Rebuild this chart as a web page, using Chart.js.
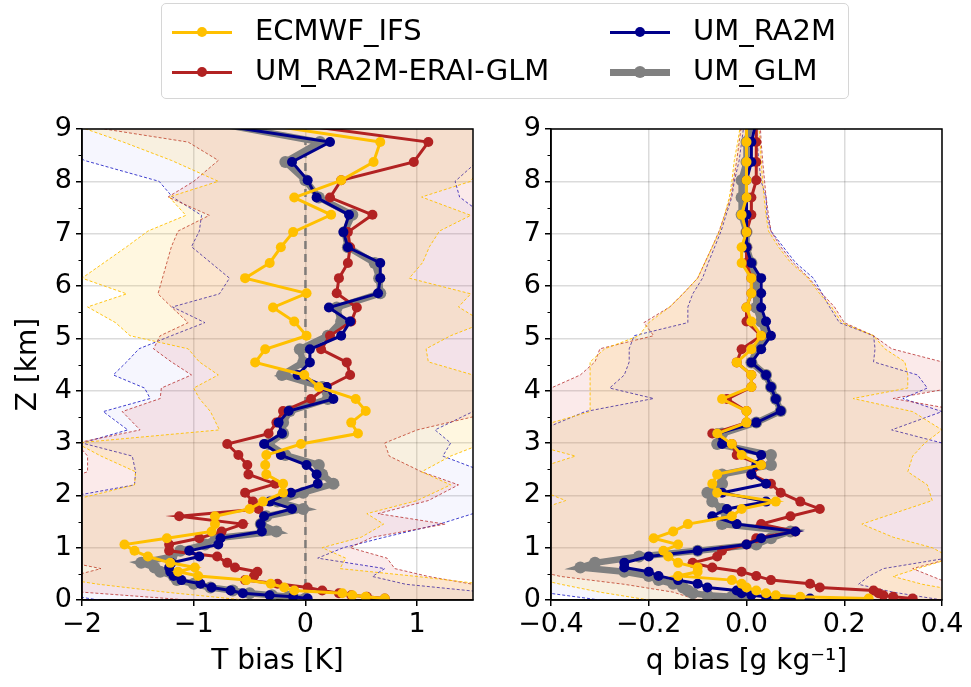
<!DOCTYPE html>
<html>
<head>
<meta charset="utf-8">
<script src="https://cdn.jsdelivr.net/npm/chart.js@4.4.1/dist/chart.umd.min.js"></script>
<style>
  body { margin: 0; background: #fff; width: 971px; height: 687px; overflow: hidden; font-family: "DejaVu Sans", sans-serif; }
  canvas { position: absolute; top: 0; }
  #left { left: 0; }
  #right { left: 485px; }
  #legend { position: absolute; left: 161px; top: 3px; width: 686px; height: 94px; border: 1.5px solid #d6d6d6; border-radius: 5px; background: rgba(255,255,255,0.85); }
  .item { position: absolute; height: 40px; }
  .item .ln { position: absolute; left: 0; width: 60px; }
  .item .dot { position: absolute; border-radius: 50%; }
  .item span { position: absolute; left: 83px; top: 1px; font-size: 29px; white-space: nowrap; color: #000; }
</style>
</head>
<body>
<canvas id="left" width="485" height="687"></canvas>
<canvas id="right" width="486" height="687"></canvas>
<div id="legend"></div>
<script>
// ---- data ----
// altitude levels of the profiles [km]
const Z = [0.03, 0.06, 0.09, 0.13, 0.18, 0.24, 0.31, 0.38, 0.46, 0.54, 0.62, 0.71, 0.83, 0.94, 1.06, 1.18, 1.31,
  1.45, 1.60, 1.74, 1.88, 2.05, 2.22, 2.40, 2.58, 2.77, 2.98, 3.18, 3.39, 3.61, 3.84, 4.07, 4.30, 4.54, 4.79,
  5.05, 5.32, 5.59, 5.86, 6.15, 6.44, 6.74, 7.03, 7.36, 7.69, 8.02, 8.37, 8.75, 9.15];

// T bias [K]
const T_IFS = [0.71, 0.54, 0.42, 0.33, -0.10, -0.19, -0.31, -0.53, -0.96, -1.14, -0.99, -1.21, -1.41, -1.53, -1.62, -1.24, -0.84,
  -0.81, -0.81, -0.50, -0.38, -0.20, -0.20, -0.35, -0.36, -0.35, -0.04, 0.47, 0.41, 0.54, 0.45, 0.12, -0.01, -0.45, -0.36,
  0.01, -0.10, -0.29, 0.01, -0.54, -0.32, -0.22, -0.11, 0.23, -0.10, 0.32, 0.61, 0.67, -0.57];
const T_ERAI = [0.71, 0.55, 0.41, 0.30, 0.15, 0.02, -0.25, -0.54, -0.46, -0.43, -0.63, -0.70, -0.79, -1.22, -1.22, -0.95, -0.75,
  -0.56, -1.13, -0.42, -0.47, -0.54, -0.27, -0.51, -0.52, -0.60, -0.70, -0.33, -0.26, -0.20, 0.05, 0.19, 0.40, 0.37, 0.14,
  0.22, 0.41, 0.46, 0.28, 0.30, 0.38, 0.40, 0.38, 0.60, 0.22, 0.32, 0.97, 1.10, -0.30];
const T_RA2M = [0.02, -0.11, -0.32, -0.56, -0.67, -0.84, -0.94, -1.11, -1.18, -1.21, -1.22, -1.20, -0.95, -1.04, -0.78, -0.76, -0.39,
  -0.40, -0.37, -0.12, -0.32, -0.13, 0.11, 0.10, 0.01, -0.22, -0.37, -0.21, -0.24, -0.15, 0.25, 0.19, -0.07, 0.04, 0.04,
  0.32, 0.40, 0.21, 0.65, 0.67, 0.67, 0.38, 0.34, 0.39, 0.10, 0.02, -0.12, 0.22, -1.00];
const T_GLM = [0.00, -0.15, -0.30, -0.50, -0.65, -0.85, -1.00, -1.15, -1.18, -1.30, -1.35, -1.47, -1.20, -1.12, -0.90, -0.80, -0.26,
  -0.40, -0.35, -0.02, -0.25, -0.02, 0.25, 0.15, 0.12, -0.18, -0.33, -0.20, -0.20, -0.14, 0.20, 0.15, -0.21, -0.02, -0.05,
  0.20, 0.32, 0.28, 0.67, 0.66, 0.62, 0.38, 0.35, 0.42, 0.12, 0.00, -0.18, 0.13, -0.90];

// q bias [g/kg]
const Q_IFS = [0.25, 0.11, 0.06, 0.04, 0.02, 0.00, -0.01, -0.03, -0.14, -0.10, -0.10, -0.14, -0.16, -0.17, -0.14, -0.19, -0.15,
  -0.12, -0.03, -0.01, 0.06, -0.06, -0.07, -0.06, 0.03, -0.01, -0.03, -0.06, 0.00, 0.00, -0.05, 0.01, 0.01, -0.02, 0.01,
  0.03, 0.01, 0.00, 0.01, 0.01, -0.01, -0.01, 0.00, -0.01, 0.00, 0.00, 0.00, 0.00, 0.00];
const Q_ERAI = [0.34, 0.30, 0.28, 0.27, 0.26, 0.15, 0.13, 0.05, 0.02, -0.01, -0.07, -0.11, -0.06, -0.05, 0.00, 0.02, 0.10,
  0.03, 0.09, 0.15, 0.11, 0.07, 0.05, 0.01, 0.03, -0.02, -0.03, -0.07, 0.00, 0.00, -0.04, 0.01, 0.01, -0.02, -0.01,
  0.03, 0.00, 0.00, 0.01, 0.01, 0.00, 0.00, 0.00, 0.01, 0.01, 0.02, 0.02, 0.02, 0.02];
const Q_RA2M = [0.13, 0.04, 0.01, -0.01, -0.02, -0.08, -0.10, -0.14, -0.18, -0.20, -0.25, -0.25, -0.20, -0.10, 0.00, 0.03, 0.10,
  -0.02, -0.07, -0.04, 0.04, -0.05, 0.04, 0.01, 0.02, 0.03, -0.05, -0.06, 0.02, 0.07, 0.06, 0.05, 0.04, 0.01, 0.03,
  0.05, 0.04, 0.03, 0.03, 0.03, 0.01, 0.00, 0.00, 0.00, 0.00, 0.00, 0.01, 0.01, 0.02];
const Q_GLM = [0.00, -0.03, -0.08, -0.11, -0.12, -0.13, -0.15, -0.18, -0.20, -0.25, -0.34, -0.31, -0.22, -0.10, 0.02, 0.05, 0.09,
  -0.05, -0.04, -0.05, -0.07, -0.08, -0.05, -0.05, 0.05, 0.05, -0.06, -0.05, 0.02, 0.07, 0.06, 0.05, 0.04, 0.01, 0.02,
  0.04, 0.03, 0.02, 0.02, 0.02, 0.01, 0.00, 0.00, -0.01, -0.01, -0.01, 0.00, 0.00, 0.01];

// spread envelopes (dashed), on their own levels
const EZ = [0.0, 0.15, 0.3, 0.45, 0.6, 0.8, 1.0, 1.2, 1.45, 1.65, 1.9, 2.2, 2.45, 2.75, 3.0, 3.25, 3.6, 3.85,
  4.05, 4.3, 4.55, 4.8, 5.05, 5.3, 5.6, 5.85, 6.15, 6.45, 6.75, 7.05, 7.35, 7.7, 8.0, 8.4, 8.75, 9.1];

const T_IFS_LO = [-0.55, -1.25, -1.85, -2.3, -2.3, -2.3, -2.3, -2.3, -2.3, -2.3, -2.1, -1.53, -1.52, -1.83, -2.05, -0.77, -0.85, -0.95,
  -1.0, -0.78, -0.95, -1.05, -1.57, -1.7, -1.95, -1.6, -2.0, -1.8, -1.6, -1.41, -1.07, -1.22, -0.78, -1.2, -1.63, -2.1];
const T_IFS_HI = [2.0, 2.0, 1.6, 1.0, 0.31, 0.36, 0.15, 0.5, 0.70, 0.55, 1.0, 1.3, 1.04, 1.3, 1.6, 1.7, 1.7, 1.7,
  1.6, 1.5, 1.10, 1.08, 1.3, 1.6, 1.37, 1.48, 0.93, 1.05, 1.11, 1.2, 1.48, 1.04, 1.48, 1.6, 1.7, 1.8];
const T_ERAI_LO = [-1.05, -2.0, -2.3, -2.1, -1.83, -2.3, -2.3, -2.3, -2.3, -2.3, -2.3, -2.3, -1.95, -1.95, -2.05, -1.48, -1.64, -1.3,
  -1.29, -1.02, -1.2, -1.36, -1.3, -1.05, -1.2, -1.32, -1.28, -1.24, -1.2, -1.14, -0.86, -1.23, -1.0, -0.78, -1.05, -2.1];
const T_ERAI_HI = [2.0, 1.8, 1.5, 1.1, 0.8, 0.73, 0.40, 0.6, 1.25, 0.65, 1.1, 1.37, 1.04, 0.75, 0.71, 1.0, 1.7, 1.8,
  1.8, 1.9, 1.9, 1.9, 1.9, 1.9, 1.9, 1.9, 1.9, 1.9, 1.9, 1.9, 1.9, 1.9, 1.9, 1.9, 1.9, 1.9];
const T_RA2M_LO = [-1.85, -2.3, -2.3, -2.3, -2.3, -2.3, -2.3, -2.3, -2.3, -2.3, -2.3, -1.53, -1.52, -1.55, -2.0, -1.59, -1.81, -1.39,
  -1.44, -1.72, -1.6, -1.49, -1.2, -0.90, -1.19, -0.77, -0.68, -0.85, -1.02, -0.95, -0.93, -1.19, -1.31, -1.98, -2.2, -2.3];
const T_RA2M_HI = [2.0, 1.6, 0.9, 0.6, 0.71, 0.11, 0.34, 0.71, 1.2, 1.5, 1.7, 1.8, 1.6, 1.23, 1.3, 1.16, 1.5, 1.7,
  1.7, 1.7, 1.6, 1.6, 1.6, 1.7, 1.7, 1.7, 1.7, 1.65, 1.6, 1.6, 1.6, 1.38, 1.34, 1.55, 1.6, 1.7];

const Q_IFS_LO = [-0.2, -0.3, -0.38, -0.45, -0.5, -0.5, -0.5, -0.5, -0.5, -0.45, -0.37, -0.45, -0.45, -0.35, -0.45, -0.45, -0.32, -0.32,
  -0.32, -0.32, -0.32, -0.29, -0.22, -0.2, -0.157, -0.13, -0.10, -0.085, -0.07, -0.055, -0.045, -0.035, -0.03, -0.025, -0.018, -0.012];
const Q_IFS_HI = [0.45, 0.45, 0.36, 0.30, 0.35, 0.42, 0.38, 0.30, 0.236, 0.30, 0.38, 0.37, 0.33, 0.34, 0.365, 0.40, 0.34, 0.218,
  0.33, 0.33, 0.324, 0.283, 0.26, 0.195, 0.174, 0.15, 0.126, 0.09, 0.065, 0.045, 0.04, 0.036, 0.033, 0.03, 0.028, 0.025];
const Q_ERAI_LO = [-0.1, -0.15, -0.25, -0.38, -0.45, -0.5, -0.5, -0.5, -0.5, -0.5, -0.5, -0.5, -0.5, -0.5, -0.5, -0.5, -0.5, -0.42,
  -0.40, -0.34, -0.31, -0.30, -0.19, -0.21, -0.157, -0.13, -0.10, -0.085, -0.07, -0.056, -0.045, -0.032, -0.027, -0.02, -0.015, -0.01];
const Q_ERAI_HI = [0.45, 0.45, 0.42, 0.38, 0.34, 0.42, 0.45, 0.45, 0.45, 0.45, 0.45, 0.45, 0.45, 0.45, 0.45, 0.45, 0.45, 0.30,
  0.42, 0.45, 0.40, 0.297, 0.26, 0.20, 0.18, 0.155, 0.128, 0.095, 0.07, 0.05, 0.045, 0.04, 0.037, 0.033, 0.03, 0.028];
const Q_RA2M_LO = [-0.3, -0.42, -0.5, -0.5, -0.5, -0.5, -0.5, -0.5, -0.5, -0.5, -0.5, -0.5, -0.5, -0.5, -0.5, -0.42, -0.33, -0.19,
  -0.28, -0.25, -0.24, -0.24, -0.23, -0.12, -0.12, -0.11, -0.09, -0.078, -0.065, -0.052, -0.042, -0.03, -0.025, -0.015, -0.01, -0.005];
const Q_RA2M_HI = [0.40, 0.30, 0.229, 0.25, 0.28, 0.41, 0.45, 0.45, 0.45, 0.45, 0.45, 0.45, 0.45, 0.42, 0.40, 0.297, 0.40, 0.32,
  0.37, 0.35, 0.26, 0.263, 0.26, 0.19, 0.17, 0.155, 0.137, 0.10, 0.075, 0.05, 0.042, 0.04, 0.03, 0.025, 0.022, 0.02];

// axes
const Z_TICKS = [0, 1, 2, 3, 4, 5, 6, 7, 8, 9];
const Z_MINOR = [0.5, 1.5, 2.5, 3.5, 4.5, 5.5, 6.5, 7.5, 8.5];
const T_TICKS = [-2, -1, 0, 1];
const Q_TICKS = [-0.4, -0.2, 0.0, 0.2, 0.4];
const ZERO_LINE = [0, 9];

const NAMES = ['ECMWF_IFS', 'UM_RA2M-ERAI-GLM', 'UM_RA2M', 'UM_GLM'];
const COLORS = { ifs: '#FFC000', erai: '#B22222', ra2m: '#00008B', glm: '#808080' };

Chart.defaults.font.family = '"DejaVu Sans", sans-serif';
Chart.defaults.color = '#000';
const FONT = { size: 27 };
const TITLE_FONT = { size: 28 };

const minus = s => String(s).replace('-', '\u2212');

function profile(label, xs, color, width, radius, order) {
  return {
    label, order, clip: 0,
    data: Z.map((z, i) => ({ x: xs[i], y: z })),
    borderColor: color, backgroundColor: color, borderWidth: width,
    pointRadius: radius, pointBorderWidth: 0, pointBackgroundColor: color,
    fill: false
  };
}

function band(lo, hi, edge, face, order) {
  const common = { order, clip: 0, borderColor: edge, borderWidth: 1, borderDash: [3, 2], pointRadius: 0 };
  return [
    { ...common, data: EZ.map((z, i) => ({ x: lo[i], y: z })), fill: '+1', backgroundColor: face },
    { ...common, data: EZ.map((z, i) => ({ x: hi[i], y: z })), fill: false }
  ];
}

const frame = {
  id: 'frame',
  afterDatasetsDraw(chart) {
    const { ctx, chartArea: a, scales } = chart;
    ctx.save();
    ctx.strokeStyle = '#000';
    ctx.lineWidth = 1.5;
    ctx.strokeRect(a.left, a.top, a.right - a.left, a.bottom - a.top);
    ctx.lineWidth = 1;
    Z_MINOR.forEach(v => {
      const py = Math.round(scales.y.getPixelForValue(v)) + 0.5;
      ctx.beginPath();
      ctx.moveTo(a.left, py);
      ctx.lineTo(a.left - 3.5, py);
      ctx.stroke();
    });
    ctx.restore();
  }
};

function makePanel(id, p) {
  const datasets = [
    profile(NAMES[0], p.ifs, COLORS.ifs, 3, 5, 0),
    profile(NAMES[2], p.ra2m, COLORS.ra2m, 3, 5, 1),
    profile(NAMES[1], p.erai, COLORS.erai, 3, 5, 2),
    profile(NAMES[3], p.glm, COLORS.glm, 6.5, 6, 3),
    ...band(p.ifsLo, p.ifsHi, 'rgba(255,192,0,0.9)', 'rgba(255,192,0,0.12)', 6),
    ...band(p.eraiLo, p.eraiHi, 'rgba(178,34,34,0.75)', 'rgba(220,45,45,0.10)', 7),
    ...band(p.ra2mLo, p.ra2mHi, 'rgba(0,0,190,0.75)', 'rgba(0,0,230,0.035)', 8)
  ];
  if (p.zero) {
    datasets.push({
      order: 4, clip: 0, data: ZERO_LINE.map(z => ({ x: 0, y: z })),
      borderColor: 'rgba(110,110,110,0.85)', borderWidth: 2.5, borderDash: [8, 5], pointRadius: 0, fill: false
    });
  }
  return new Chart(document.getElementById(id), {
    type: 'line',
    data: { datasets },
    plugins: [frame],
    options: {
      responsive: false,
      animation: false,
      indexAxis: 'y',
      layout: { padding: { left: 0, top: 129, right: p.padRight, bottom: 0 } },
      plugins: { legend: { display: false }, tooltip: { enabled: false } },
      scales: {
        x: {
          type: 'linear', min: p.min, max: p.max,
          afterBuildTicks: s => { s.ticks = p.ticks.map(v => ({ value: v })); },
          afterFit: s => { s.height = 87; },
          ticks: { font: FONT, color: '#000', padding: 3, maxRotation: 0, callback: p.fmt },
          grid: { color: 'rgba(0,0,0,0.14)', lineWidth: 1.5, tickLength: 6, tickColor: '#000', tickWidth: 1.5 },
          border: { display: true, color: '#000', width: 1.5 },
          title: { display: true, text: p.xTitle, font: TITLE_FONT, color: '#000', padding: { top: 0, bottom: 8 } }
        },
        y: {
          type: 'linear', min: 0, max: 9,
          afterBuildTicks: s => { s.ticks = Z_TICKS.map(v => ({ value: v })); },
          afterFit: s => { s.width = p.yWidth; },
          ticks: { font: FONT, color: '#000', padding: 4 },
          grid: { color: 'rgba(0,0,0,0.14)', lineWidth: 1.5, tickLength: 6, tickColor: '#000', tickWidth: 1.5 },
          border: { display: true, color: '#000', width: 1.5 },
          title: { display: p.yTitle !== '', text: p.yTitle, font: TITLE_FONT, color: '#000', padding: { top: 12, bottom: 0 } }
        }
      }
    }
  });
}

makePanel('left', {
  ifs: T_IFS, erai: T_ERAI, ra2m: T_RA2M, glm: T_GLM,
  ifsLo: T_IFS_LO, ifsHi: T_IFS_HI, eraiLo: T_ERAI_LO, eraiHi: T_ERAI_HI, ra2mLo: T_RA2M_LO, ra2mHi: T_RA2M_HI,
  min: -2, max: 1.5, ticks: T_TICKS, fmt: v => minus(v),
  xTitle: 'T bias [K]', yTitle: 'Z [km]', yWidth: 82, padRight: 12, zero: true
});

makePanel('right', {
  ifs: Q_IFS, erai: Q_ERAI, ra2m: Q_RA2M, glm: Q_GLM,
  ifsLo: Q_IFS_LO, ifsHi: Q_IFS_HI, eraiLo: Q_ERAI_LO, eraiHi: Q_ERAI_HI, ra2mLo: Q_RA2M_LO, ra2mHi: Q_RA2M_HI,
  min: -0.4, max: 0.4, ticks: Q_TICKS, fmt: v => minus(Number(v).toFixed(1)),
  xTitle: 'q bias [g kg\u207B\u00B9]', yTitle: '', yWidth: 66, padRight: 29, zero: false
});

// legend (two columns, filled column-wise as in the figure)
const legendItems = [
  { name: NAMES[0], color: COLORS.ifs, w: 3, d: 10, left: 10, top: 8 },
  { name: NAMES[1], color: COLORS.erai, w: 3, d: 10, left: 10, top: 48 },
  { name: NAMES[2], color: COLORS.ra2m, w: 3, d: 10, left: 448, top: 8 },
  { name: NAMES[3], color: COLORS.glm, w: 7, d: 12, left: 448, top: 48 }
];
const box = document.getElementById('legend');
legendItems.forEach(it => {
  const el = document.createElement('div');
  el.className = 'item';
  el.style.left = it.left + 'px';
  el.style.top = it.top + 'px';
  el.innerHTML = `<div class="ln" style="background:${it.color};height:${it.w}px;top:${20 - it.w / 2}px"></div>` +
    `<div class="dot" style="background:${it.color};width:${it.d}px;height:${it.d}px;left:${30 - it.d / 2}px;top:${20 - it.d / 2}px"></div>` +
    `<span>${it.name}</span>`;
  box.appendChild(el);
});
</script>
</body>
</html>
